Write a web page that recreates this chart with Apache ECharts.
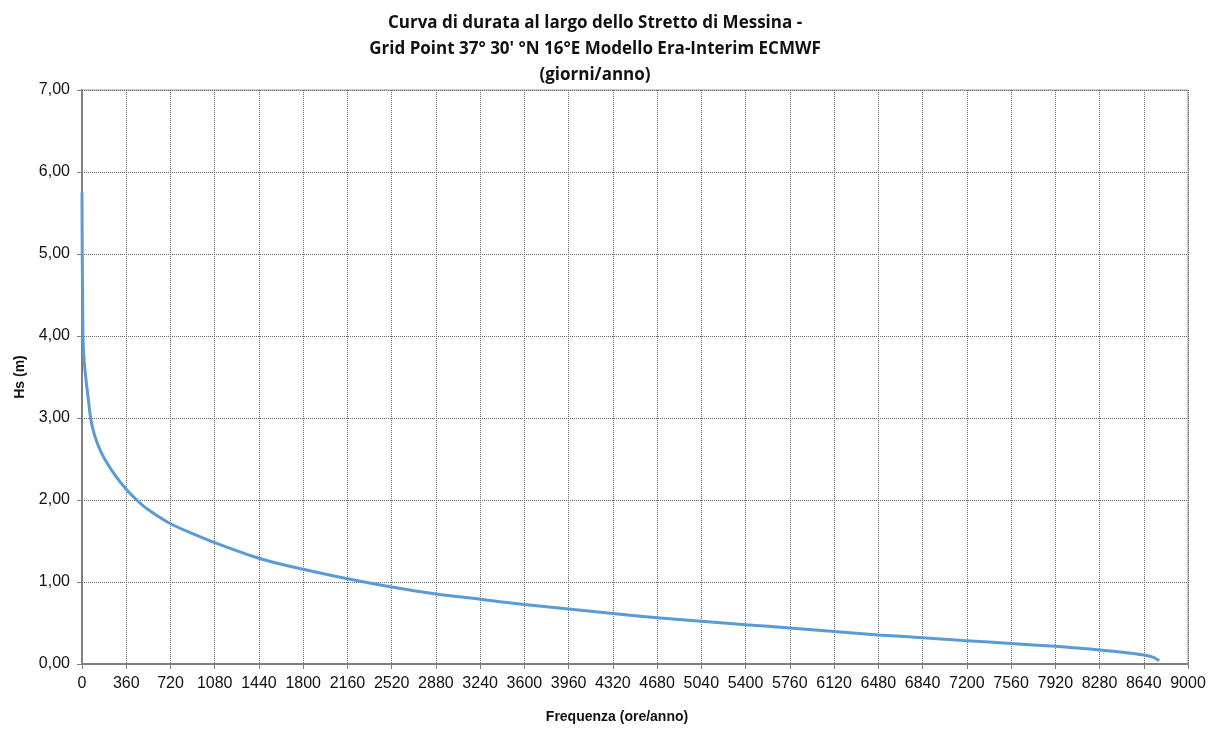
<!DOCTYPE html>
<html>
<head>
<meta charset="utf-8">
<title>Curva di durata</title>
<script src="https://cdn.jsdelivr.net/npm/echarts@6/dist/echarts.min.js"></script>
<style>
  html, body { margin: 0; padding: 0; background: #fff; }
  #chart { width: 1221px; height: 729px; }
</style>
</head>
<body>
<div id="chart"></div>
<script>
// ore/anno
const hours = [0, 2, 5, 8, 15, 30, 50, 70, 100, 150, 200, 270, 360, 445, 540, 720, 900, 1080,
  1440, 1800, 2160, 2520, 2880, 3240, 3600, 3960, 4320, 4680, 5040, 5400, 5760, 6120, 6480,
  6840, 7200, 7560, 7920, 8280, 8640, 8720, 8766];
// Hs (m)
const hs = [5.75, 5.0, 4.5, 4.0, 3.75, 3.5, 3.25, 3.0, 2.8, 2.6, 2.46, 2.3, 2.13, 2.0, 1.88, 1.71, 1.59, 1.48,
  1.29, 1.155, 1.04, 0.94, 0.855, 0.79, 0.725, 0.67, 0.615, 0.565, 0.52, 0.48, 0.44, 0.395, 0.355,
  0.32, 0.285, 0.25, 0.215, 0.17, 0.11, 0.08, 0.04];

const titleLines = [
  "Curva di durata al largo dello Stretto di Messina -",
  "Grid Point 37° 30' °N 16°E Modello Era-Interim ECMWF",
  "(giorni/anno)",
];

const chart = echarts.init(document.getElementById("chart"));

chart.setOption({
  animation: false,
  title: {
    text: titleLines.join("\n"),
    left: 590,
    top: 5,
    textAlign: "center",
    textStyle: {
      fontFamily: "Open Sans",
      fontWeight: "bold",
      fontSize: 17,
      lineHeight: 26,
      color: "#111",
    },
  },
  grid: {
    left: 82,
    right: 33,
    top: 90,
    bottom: 61,
    show: true,
    borderColor: "#9a9a9a",
    borderWidth: 1,
  },
  xAxis: {
    type: "value",
    min: 0,
    max: 9000,
    interval: 360,
    name: "Frequenza (ore/anno)",
    nameLocation: "middle",
    nameGap: 46,
    nameTextStyle: {
      fontFamily: "Liberation Sans",
      fontWeight: "bold",
      fontSize: 14,
      color: "#111",
      padding: [0, 36, 0, 0],
    },
    axisLine: { show: true, lineStyle: { color: "#7f7f7f", width: 2 } },
    axisTick: { show: true, length: 5, lineStyle: { color: "#7f7f7f" } },
    axisLabel: {
      fontFamily: "Liberation Sans",
      fontSize: 16,
      color: "#111",
      margin: 12,
      formatter: (v) => String(v),
    },
    splitLine: { lineStyle: { color: "#666", type: "dotted", width: 1 } },
  },
  yAxis: {
    type: "value",
    min: 0,
    max: 7,
    interval: 1,
    name: "Hs (m)",
    nameLocation: "middle",
    nameGap: 55,
    nameTextStyle: {
      fontFamily: "Liberation Sans",
      fontWeight: "bold",
      fontSize: 14,
      color: "#111",
    },
    axisLine: { show: true, lineStyle: { color: "#7f7f7f", width: 2 } },
    axisTick: { show: true, length: 5, lineStyle: { color: "#7f7f7f" } },
    axisLabel: {
      fontFamily: "Liberation Sans",
      fontSize: 16,
      color: "#111",
      margin: 12,
      formatter: (v) => v.toFixed(2).replace(".", ","),
    },
    splitLine: { lineStyle: { color: "#666", type: "dotted", width: 1 } },
  },
  series: [
    {
      type: "line",
      data: hours.map((h, i) => [h, hs[i]]),
      smooth: 0.3,
      showSymbol: false,
      lineStyle: { color: "#5b9bd5", width: 3 },
    },
  ],
});
</script>
</body>
</html>
